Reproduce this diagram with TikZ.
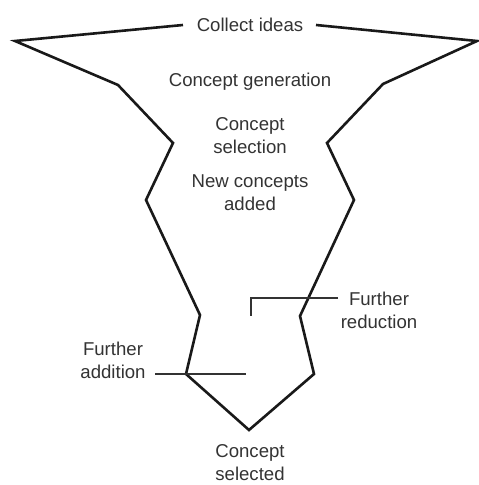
\documentclass[tikz,border=0pt]{standalone}
\usepackage{fontspec}
\setmainfont{Liberation Sans}
\begin{document}
\begin{tikzpicture}[x=0.5pt,y=-0.5pt,
  lbl/.style={text=black!80, font=\fontsize{9.3}{11.5}\selectfont, align=center, inner sep=1pt},
  funnel/.style={line width=1.3pt, line join=miter, black!90},
  pointer/.style={line width=0.7pt, black!80}]
\useasboundingbox (0,0) rectangle (478,485);
% funnel points
\coordinate (l0) at (183,25);
\coordinate (l1) at (15,41);
\coordinate (l2) at (118,85);
\coordinate (l3) at (173,143);
\coordinate (l4) at (146,200);
\coordinate (l5) at (200,315);
\coordinate (l6) at (186,374);
\coordinate (bt) at (249,430);
\coordinate (r6) at (314,374);
\coordinate (r5) at (300,316);
\coordinate (r4) at (354,200);
\coordinate (r3) at (327,143);
\coordinate (r2) at (383,84);
\coordinate (r1) at (477,41);
\coordinate (r0) at (316,25);
\draw[funnel] (l0) -- (l1) -- (l2) -- (l3) -- (l4) -- (l5) -- (l6) -- (bt) -- (r6) -- (r5) -- (r4) -- (r3) -- (r2) -- (r1) -- (r0);
% labels
\node[lbl] (collect) at (250,25) {Collect ideas};
\node[lbl] (gen) at (250,82) {Concept generation};
\node[lbl] (sel) at (250,136) {Concept\\selection};
\node[lbl] (new) at (250,193) {New concepts\\added};
\node[lbl] (red) at (379,310) {Further\\reduction};
\node[lbl] (add) at (113,360) {Further\\addition};
\node[lbl] (final) at (250,463) {Concept\\selected};
% pointers
\coordinate (redA) at (338,298);
\coordinate (redB) at (251,298);
\coordinate (redC) at (251,316);
\draw[pointer] (redA) -- (redB) -- (redC);
\coordinate (addA) at (155,374);
\coordinate (addB) at (246,374);
\draw[pointer] (addA) -- (addB);
\end{tikzpicture}
\end{document}
